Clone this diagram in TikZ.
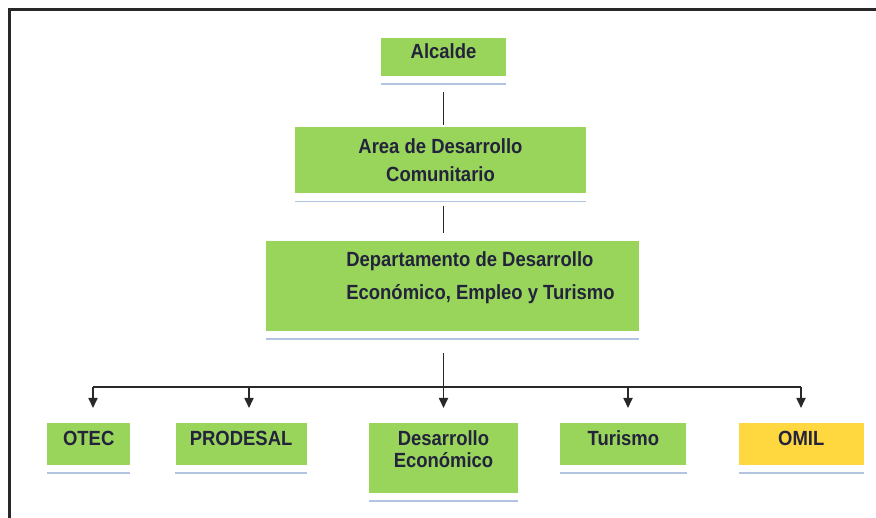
\documentclass[tikz,border=0pt]{standalone}
\usepackage{fontspec}
\setmainfont[FakeStretch=0.9]{Liberation Sans}
\usetikzlibrary{positioning}
\usetikzlibrary{arrows.meta}

\definecolor{boxgreen}{RGB}{152,213,90}
\definecolor{boxyellow}{RGB}{255,216,64}
\definecolor{inkblue}{RGB}{35,35,60}
\definecolor{shadowblue}{RGB}{178,196,224}
\definecolor{linegray}{RGB}{40,40,40}

% invisible strut that lifts the text inside a box
\newcommand{\liftstrut}[1]{\rule[-#1]{0pt}{#1}}

\begin{document}
\begin{tikzpicture}[x=1pt, y=-1pt,
    unit/.style={rectangle, fill=boxgreen, draw=none, inner sep=0pt,
                 text=inkblue, font=\fontsize{20.5}{22}\selectfont\bfseries},
    link/.style={draw=linegray, line width=1.7pt},
    arr/.style={link, -{Triangle[width=9pt,length=10pt]}, shorten >=15pt},
    shadowline/.style={draw=shadowblue, line width=1.8pt}]
    \useasboundingbox (0,0) rectangle (876,518);
    \draw[linegray, line width=3pt] (9,518) -- (9,10) -- (876,10);

    % top of the chart
    \node[unit, minimum width=125pt, minimum height=38pt]
        (alc) at (443.5,57) {Alcalde\liftstrut{12pt}};
    \node[unit,
          below=51pt of alc, xshift=-3pt,
          minimum width=291pt, minimum height=66pt,
          align=center] (area) {Area de Desarrollo\\[6pt]Comunitario};
    \node[unit,
          below=47pt of area, xshift=12pt,
          minimum width=373pt, minimum height=90pt,
          align=left] (dept)
        {\hspace*{56pt}Departamento de Desarrollo\\[11pt]\hspace*{56pt}Económico, Empleo y Turismo\liftstrut{20pt}};

    % units
    \node[unit, anchor=north west,
          minimum width=83pt, minimum height=42pt] (otec) at (47,423) {OTEC\liftstrut{12pt}};
    \node[unit, right=45pt of otec.north east, anchor=north west,
          minimum width=131pt, minimum height=42pt] (prod) {PRODESAL\liftstrut{12pt}};
    \node[unit, right=62pt of prod.north east, anchor=north west,
          minimum width=149pt, minimum height=70pt,
          align=center] (desa) {Desarrollo\\Económico\liftstrut{18pt}};
    \node[unit, right=42pt of desa.north east, anchor=north west,
          minimum width=126pt, minimum height=42pt] (tur) {Turismo\liftstrut{12pt}};
    \node[unit, right=52pt of tur.north east, anchor=north west,
          fill=boxyellow,
          minimum width=125pt, minimum height=42pt] (omil) {OMIL\liftstrut{12pt}};

    \foreach \u in {alc,area,dept,otec,prod,desa,tur,omil}
        \draw[shadowline] ([yshift=-8pt]\u.south west) -- ([yshift=-8pt]\u.south east);

    % connectors
    \draw[link, shorten <=16pt, shorten >=2pt] (alc.south) -- (alc.south |- area.north);
    \draw[link, shorten <=12pt, shorten >=8pt] (alc.south |- area.south) -- (alc.south |- dept.north);

    \coordinate (bus) at (443,387);
    \coordinate (tOtec) at (93,387);
    \coordinate (tProd) at (249,387);
    \coordinate (tTur) at (628,387);
    \coordinate (tOmil) at (801,387);

    \draw[arr, shorten <=22pt] (alc.south |- dept.south) -- (alc.south |- desa.north);
    \draw[link] (tOtec) -- (tOmil);
    \draw[arr] (tOtec) -- (tOtec |- otec.north);
    \draw[arr] (tProd) -- (tProd |- prod.north);
    \draw[arr] (tTur) -- (tTur |- tur.north);
    \draw[arr] (tOmil) -- (tOmil |- omil.north);
\end{tikzpicture}
\end{document}
